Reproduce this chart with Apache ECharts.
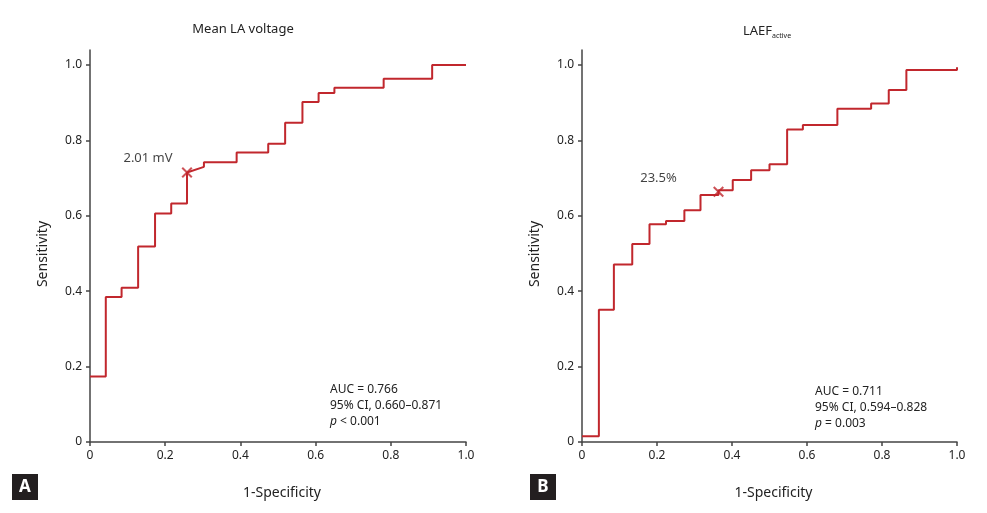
<!DOCTYPE html>
<html>
<head>
<meta charset="utf-8">
<script src="https://cdn.jsdelivr.net/npm/echarts@6/dist/echarts.min.js"></script>
<style>html,body{margin:0;padding:0;background:#fff;}#c{width:987px;height:513px;}</style>
</head>
<body>
<div id="c"></div>
<script>
// Panel A: Mean LA voltage ROC (1-specificity, sensitivity) vertices
const leftFpr = [0, 0.042, 0.042, 0.084, 0.084, 0.128, 0.128, 0.173, 0.173, 0.216, 0.216, 0.258, 0.258, 0.303, 0.303, 0.39, 0.39, 0.474, 0.474, 0.519, 0.519, 0.565, 0.565, 0.608, 0.608, 0.65, 0.65, 0.781, 0.781, 0.91, 0.91, 1.0];
const leftTpr = [0.174, 0.174, 0.385, 0.385, 0.409, 0.409, 0.519, 0.519, 0.606, 0.606, 0.633, 0.633, 0.715, 0.73, 0.742, 0.742, 0.768, 0.768, 0.791, 0.791, 0.847, 0.847, 0.902, 0.902, 0.926, 0.926, 0.94, 0.94, 0.964, 0.964, 1.0, 1.0];
const leftCut = [0.258, 0.715];
const leftCutLabel = '2.01 mV';
const leftTitle = 'Mean LA voltage';
const leftStats = ['AUC = 0.766', '95% CI, 0.660\u20130.871', '{i|p} < 0.001'];

// Panel B: LAEF active ROC vertices
const rightFpr = [0, 0.045, 0.045, 0.085, 0.085, 0.134, 0.134, 0.18, 0.18, 0.224, 0.224, 0.273, 0.273, 0.316, 0.316, 0.364, 0.364, 0.402, 0.402, 0.451, 0.451, 0.5, 0.5, 0.547, 0.547, 0.589, 0.589, 0.681, 0.681, 0.771, 0.771, 0.818, 0.818, 0.865, 0.865, 1.0, 1.0];
const rightTpr = [0.015, 0.015, 0.351, 0.351, 0.471, 0.471, 0.525, 0.525, 0.578, 0.578, 0.586, 0.586, 0.615, 0.615, 0.655, 0.655, 0.668, 0.668, 0.695, 0.695, 0.721, 0.721, 0.737, 0.737, 0.829, 0.829, 0.841, 0.841, 0.884, 0.884, 0.898, 0.898, 0.934, 0.934, 0.987, 0.987, 0.994];
const rightCut = [0.364, 0.664];
const rightCutLabel = '23.5%';
const rightStats = ['AUC = 0.711', '95% CI, 0.594\u20130.828', '{i|p} = 0.003'];

const tickValues = [0, 0.2, 0.4, 0.6, 0.8, 1.0];
const xAxisName = '1-Specificity';
const yAxisName = 'Sensitivity';
const panelLetters = ['A', 'B'];

const FONT = 'Noto Sans';
const RED = '#c1272d';
const AXIS = '#444';

function pairs(xs, ys) { return xs.map((x, i) => [x, ys[i]]); }
function fmt(v) { return v === 0 ? '0' : v.toFixed(1); }

function xAx(gi) {
  return {
    gridIndex: gi, type: 'value', min: 0, max: 1, interval: 0.2,
    name: xAxisName, nameLocation: 'middle', nameGap: 44,
    nameTextStyle: { fontFamily: FONT, fontSize: 14, color: '#222', padding: [0, 0, 0, 8] },
    axisLine: { show: true, lineStyle: { color: AXIS, width: 1.5 } },
    axisTick: { show: true, length: 4, lineStyle: { color: AXIS, width: 1.5 } },
    axisLabel: { fontFamily: FONT, fontSize: 12, color: '#222', margin: 8, formatter: fmt },
    splitLine: { show: false }
  };
}
function yAx(gi) {
  return {
    gridIndex: gi, type: 'value', min: 0, max: 1.04,
    name: yAxisName, nameLocation: 'middle', nameGap: 40, nameRotate: 90,
    nameTextStyle: { fontFamily: FONT, fontSize: 14, color: '#222', padding: [0, 16, 0, 0] },
    axisLine: { show: true, lineStyle: { color: AXIS, width: 1.5 } },
    axisTick: { show: true, length: 4, customValues: tickValues, lineStyle: { color: AXIS, width: 1.5 } },
    axisLabel: { fontFamily: FONT, fontSize: 12, color: '#222', margin: 8, customValues: tickValues, formatter: fmt },
    splitLine: { show: false }
  };
}
const XMARK = 'path://M0,1.3L1.3,0L5,3.7L8.7,0L10,1.3L6.3,5L10,8.7L8.7,10L5,6.3L1.3,10L0,8.7L3.7,5Z';

function cutSeries(gi, pt, label, offset) {
  return {
    type: 'scatter', xAxisIndex: gi, yAxisIndex: gi, data: [pt],
    symbol: XMARK, symbolSize: 11, itemStyle: { color: RED },
    label: { show: true, formatter: label, position: 'inside', offset: offset,
      fontFamily: FONT, fontSize: 13, color: '#111' },
    z: 5
  };
}
function statText(x, y, lines) {
  return {
    type: 'text', x: x, y: y,
    style: {
      text: lines.join('\n'), fontFamily: FONT, fontSize: 12, fill: '#222', lineHeight: 16,
      rich: { i: { fontStyle: 'italic', fontFamily: FONT, fontSize: 12, fill: '#222', lineHeight: 16 } }
    }
  };
}
function letterBox(x, y, ch) {
  return [
    { type: 'rect', shape: { x: x, y: y, width: 26, height: 26 }, style: { fill: '#231f20' } },
    { type: 'text', x: x + 13, y: y + 13, style: { text: ch, fontFamily: FONT, fontWeight: 'bold', fontSize: 17, fill: '#fff', align: 'center', verticalAlign: 'middle' } }
  ];
}

const chart = echarts.init(document.getElementById('c'), null, { renderer: 'canvas' });
chart.setOption({
  backgroundColor: '#fff',
  animation: false,
  title: [
    { text: leftTitle, left: 238, top: 18, textAlign: 'center',
      textStyle: { fontFamily: FONT, fontSize: 13, fontWeight: 'normal', color: '#222' } },
    { text: 'LAEF{sub|active}', left: 762, top: 18, textAlign: 'center',
      textStyle: { fontFamily: FONT, fontSize: 13, fontWeight: 'normal', color: '#222',
        rich: { sub: { fontFamily: FONT, fontSize: 7, color: '#222', padding: [9, 0, 0, 0] } } } }
  ],
  grid: [
    { left: 90, top: 50, width: 376, height: 392 },
    { left: 582, top: 50, width: 375, height: 392 }
  ],
  xAxis: [xAx(0), xAx(1)],
  yAxis: [yAx(0), yAx(1)],
  series: [
    { type: 'line', xAxisIndex: 0, yAxisIndex: 0, data: pairs(leftFpr, leftTpr), showSymbol: false,
      lineStyle: { color: RED, width: 2 }, z: 3 },
    { type: 'line', xAxisIndex: 1, yAxisIndex: 1, data: pairs(rightFpr, rightTpr), showSymbol: false,
      lineStyle: { color: RED, width: 2 }, z: 3 },
    cutSeries(0, leftCut, leftCutLabel, [-39, -14]),
    cutSeries(1, rightCut, rightCutLabel, [-60, -13])
  ],
  graphic: [
    statText(330, 382, leftStats),
    statText(815, 384, rightStats),
    ...letterBox(12, 474, panelLetters[0]),
    ...letterBox(530, 474, panelLetters[1])
  ]
});
</script>
</body>
</html>
